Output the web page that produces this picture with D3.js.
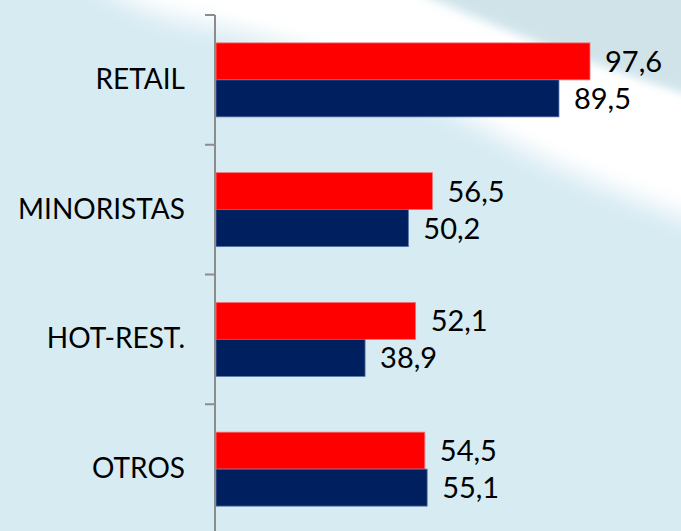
<!DOCTYPE html>
<html>
<head>
<meta charset="utf-8">
<script src="https://cdn.jsdelivr.net/npm/d3@7/dist/d3.min.js"></script>
<style>
  html, body { margin: 0; padding: 0; background: #d7ebf3; }
  svg { display: block; }
</style>
</head>
<body>
<svg id="chart" width="681" height="531"></svg>
<script>
const categories = ["RETAIL", "MINORISTAS", "HOT-REST.", "OTROS"];
const seriesRed = [97.6, 56.5, 52.1, 54.5];
const seriesNavy = [89.5, 50.2, 38.9, 55.1];
const valueLabelsRed = ["97,6", "56,5", "52,1", "54,5"];
const valueLabelsNavy = ["89,5", "50,2", "38,9", "55,1"];

const W = 681, H = 531;
const svg = d3.select("#chart");

// background
const defs = svg.append("defs");
const blur = defs.append("filter").attr("id", "soft").attr("x", "-20%").attr("y", "-50%").attr("width", "140%").attr("height", "200%");
blur.append("feGaussianBlur").attr("stdDeviation", 12);
const blur2 = defs.append("filter").attr("id", "soft2").attr("x", "-20%").attr("y", "-50%").attr("width", "140%").attr("height", "200%");
blur2.append("feGaussianBlur").attr("stdDeviation", 5);

svg.append("rect").attr("width", W).attr("height", H).attr("fill", "#d7ebf3");
const bg = svg.append("g");
// swoosh (white band)
bg.append("path")
  .attr("d", "M60,-40 L340,-40 Q520,40 720,120 L720,230 Q560,175 480,125 Q330,45 180,20 Q120,5 60,-40 Z")
  .attr("fill", "#ffffff").attr("filter", "url(#soft)");
bg.append("path")
  .attr("d", "M170,-30 L360,-30 Q500,40 720,105 L720,205 Q580,160 490,110 Q360,40 230,12 Z")
  .attr("fill", "#ffffff").attr("filter", "url(#soft2)");
// grayish top-right region
bg.append("path")
  .attr("d", "M400,-20 L720,-20 L720,100 Q560,55 400,-20 Z")
  .attr("fill", "#d0e3e8").attr("filter", "url(#soft2)");

const y = d3.scaleBand().domain(categories).range([15, 534]).paddingInner(0).paddingOuter(0);
const x = d3.scaleLinear().domain([0, 100]).range([216, 599.2]);

const barH = 37;
const g = svg.append("g");
const FONT = "Lato, 'Open Sans', sans-serif";

categories.forEach((c, i) => {
  const yc = y(c) + y.bandwidth() / 2;
  g.append("rect")
    .attr("x", x(0)).attr("y", yc - barH)
    .attr("width", x(seriesRed[i]) - x(0)).attr("height", barH)
    .attr("fill", "#ff0000").attr("stroke", "#f27a7a").attr("stroke-width", 0.8);
  g.append("rect")
    .attr("x", x(0)).attr("y", yc)
    .attr("width", x(seriesNavy[i]) - x(0)).attr("height", barH)
    .attr("fill", "#001f5f").attr("stroke", "#5a73a8").attr("stroke-width", 0.8);
  g.append("text")
    .attr("x", x(seriesRed[i]) + 15).attr("y", yc - barH / 2)
    .attr("dy", "0.36em")
    .attr("font-family", FONT).attr("font-size", 29)
    .attr("fill", "#000").text(valueLabelsRed[i]);
  g.append("text")
    .attr("x", x(seriesNavy[i]) + 15).attr("y", yc + barH / 2)
    .attr("dy", "0.36em")
    .attr("font-family", FONT).attr("font-size", 29)
    .attr("fill", "#000").text(valueLabelsNavy[i]);
});

// axis: category labels at band centers
const axis = svg.append("g").attr("transform", "translate(215,0)")
  .call(d3.axisLeft(y).tickSize(0).tickPadding(30));
axis.select(".domain").remove();
axis.selectAll("text")
  .attr("font-family", FONT).attr("font-size", 28).attr("fill", "#000");

// axis line and boundary ticks
svg.append("line").attr("x1", 215).attr("x2", 215).attr("y1", 15).attr("y2", H + 5)
  .attr("stroke", "#8c8c8c").attr("stroke-width", 2);
svg.selectAll(".bt").data(categories).enter().append("line")
  .attr("x1", 205).attr("x2", 215)
  .attr("y1", d => y(d)).attr("y2", d => y(d))
  .attr("stroke", "#8c8c8c").attr("stroke-width", 2);
</script>
</body>
</html>
